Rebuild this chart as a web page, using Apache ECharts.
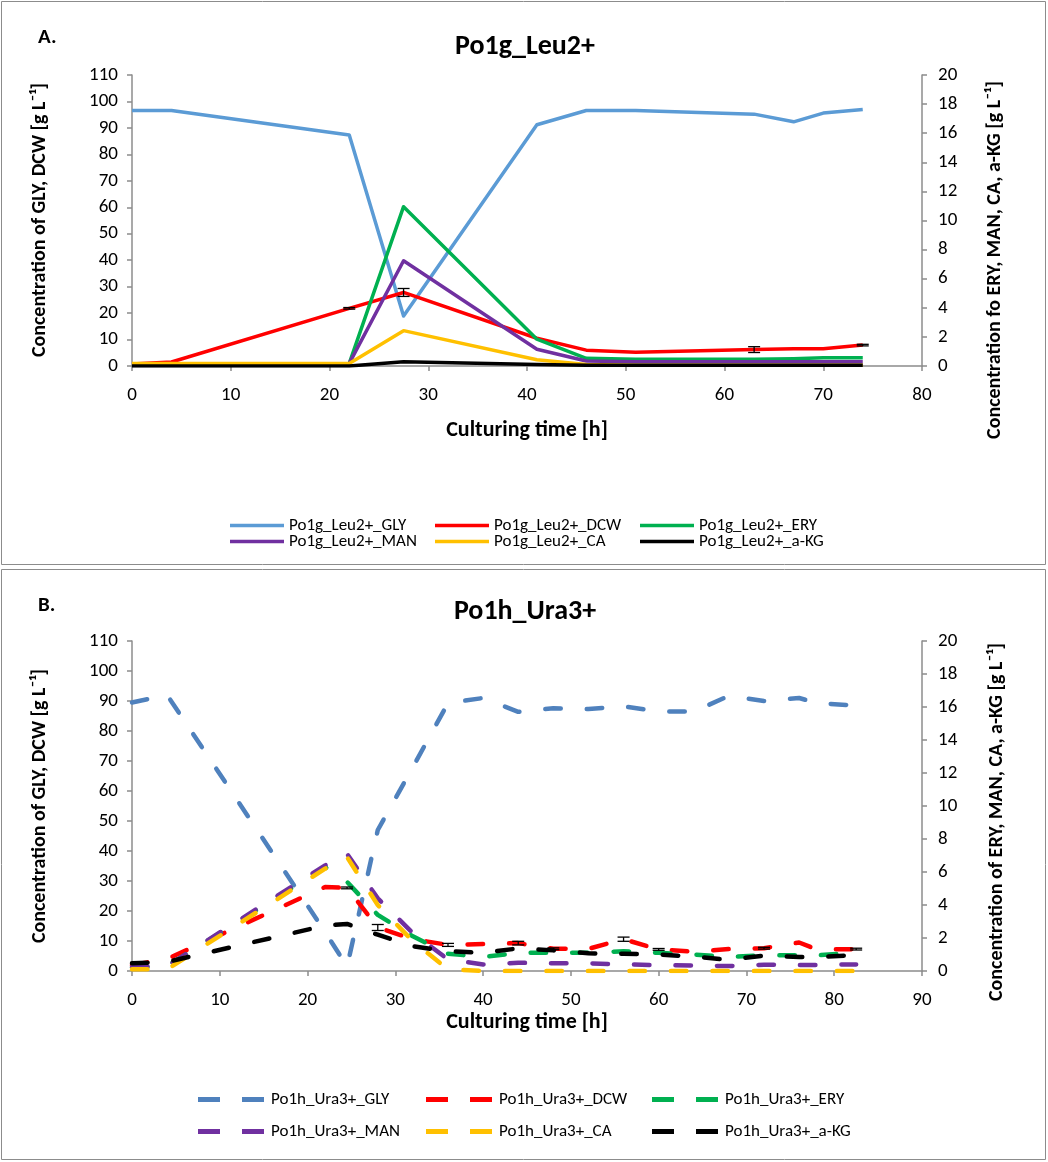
<!DOCTYPE html>
<html>
<head>
<meta charset="utf-8">
<title>Po1g_Leu2+ / Po1h_Ura3+ culturing profiles</title>
<script src="https://cdn.jsdelivr.net/npm/echarts@6/dist/echarts.min.js"></script>
<style>
  html, body { margin: 0; padding: 0; background: #fff; }
  #chart { width: 1048px; height: 1162px; }
</style>
</head>
<body>
<div id="chart"></div>
<script>
// ---- Panel A: Po1g_Leu2+ (solid lines) ----
const timeA = [0, 4, 22, 27.5, 41, 46, 51, 63, 67, 70, 74];
const glyA  = [96.6, 96.6, 87.3, 18.9, 91.2, 96.6, 96.6, 95.2, 92.3, 95.6, 97.0];
const dcwA  = [0.8, 1.5, 21.8, 27.8, 10.5, 6.0, 5.2, 6.2, 6.5, 6.5, 7.9];
const dcwSdA = [0, 0, 0.3, 1.5, 0, 0, 0, 1.1, 0, 0, 0.3];
const eryA  = [0.15, 0.15, 0.18, 10.95, 1.84, 0.53, 0.46, 0.46, 0.5, 0.57, 0.57];
const manA  = [0.15, 0.15, 0.18, 7.23, 1.15, 0.34, 0.3, 0.3, 0.3, 0.3, 0.3];
const caA   = [0.18, 0.18, 0.18, 2.43, 0.43, 0.1, 0.05, 0.05, 0.05, 0.05, 0.05];
const akgA  = [0, 0, 0, 0.3, 0.1, 0.05, 0.05, 0.05, 0.05, 0.05, 0.05];

// ---- Panel B: Po1h_Ura3+ (dashed lines) ----
const timeB = [0, 4, 22, 24.5, 28, 32, 36, 40, 44, 48, 52, 56, 60, 64, 68, 72, 76, 78, 82.5];
const glyB  = [89.5, 92, 13, 1.5, 47, 68, 89.3, 91, 86.4, 87.6, 87.3, 88.2, 86.5, 86.5, 91.7, 90, 91, 89.3, 88.5];
const dcwB  = [2.0, 4.0, 28.0, 27.7, 14.5, 10.6, 8.7, 9.0, 9.3, 7.4, 7.4, 10.6, 7.2, 6.4, 7.3, 7.6, 9.5, 7.2, 7.3];
const dcwSdB = [0, 0, 0, 0.3, 1.0, 0, 0.5, 0, 0.6, 0.3, 0, 0.7, 0.3, 0, 0, 0.3, 0, 0, 0.3];
const eryB  = [0.2, 0.3, 6.3, 5.4, 3.4, 2.1, 1.05, 0.85, 1.1, 1.1, 1.1, 1.2, 1.1, 1.0, 0.85, 0.95, 0.95, 0.95, 1.1];
const manB  = [0.25, 0.3, 6.4, 7.1, 4.4, 2.3, 0.7, 0.4, 0.5, 0.47, 0.47, 0.4, 0.36, 0.33, 0.3, 0.38, 0.37, 0.37, 0.4];
const caB   = [0.1, 0.1, 6.2, 6.9, 4.0, 1.8, 0.1, 0, 0, 0, 0, 0, 0, 0, 0, 0, 0, 0, 0];
const akgB  = [0.47, 0.55, 2.75, 2.85, 2.2, 1.5, 1.2, 1.1, 1.37, 1.25, 1.07, 1.05, 1.0, 0.87, 0.68, 0.93, 0.85, 0.84, 0.97];

// ---- Axis scales ----
const leftAxisMax = 110, leftAxisStep = 10;
const rightAxisMax = 20, rightAxisStep = 2;
const timeMaxA = 80, timeMaxB = 90, timeStep = 10;

const names = ['GLY', 'DCW', 'ERY', 'MAN', 'CA', 'a-KG'];
const colors = { GLY: '#5B9BD5', DCW: '#FF0000', ERY: '#00B050', MAN: '#7030A0', CA: '#FFC000', 'a-KG': '#000000' };
const glyColorB = '#4F81BD';

const FONT = 'Carlito, "Liberation Sans Narrow", "Open Sans", sans-serif';
const AXIS_GREY = '#8c8c8c';

function pairs(x, y) { return x.map((t, i) => [t, y[i]]); }

function lineSeries(name, x, y, color, xi, yi, dashed) {
  return {
    name, type: 'line', xAxisIndex: xi, yAxisIndex: yi,
    data: pairs(x, y), symbol: 'none', smooth: false,
    lineStyle: dashed
      ? { color, width: 4.5, type: [15.5, 26], cap: 'round', join: 'round' }
      : { color, width: 3.5, join: 'round' },
    itemStyle: { color },
    emphasis: { disabled: true }, animation: false
  };
}

function errorBars(x, y, sd, xi, yi, capHalf) {
  const data = [];
  x.forEach((t, i) => { if (sd[i] > 0) data.push([t, y[i] - sd[i], y[i] + sd[i]]); });
  return {
    type: 'custom', name: 'DCW sd', xAxisIndex: xi, yAxisIndex: yi, data, z: 5,
    silent: true, animation: false,
    encode: { x: 0, y: [1, 2] },
    renderItem(params, api) {
      const t = api.value(0);
      const lo = api.coord([t, api.value(1)]);
      const hi = api.coord([t, api.value(2)]);
      const st = { stroke: '#000', lineWidth: 1.3 };
      return {
        type: 'group', children: [
          { type: 'line', shape: { x1: lo[0], y1: lo[1], x2: hi[0], y2: hi[1] }, style: st },
          { type: 'line', shape: { x1: lo[0] - capHalf, y1: lo[1], x2: lo[0] + capHalf, y2: lo[1] }, style: st },
          { type: 'line', shape: { x1: hi[0] - capHalf, y1: hi[1], x2: hi[0] + capHalf, y2: hi[1] }, style: st }
        ]
      };
    }
  };
}

function valueAxisX(grid, max) {
  return {
    type: 'value', gridIndex: grid, min: 0, max, interval: timeStep,
    axisLine: { show: true, onZero: false, lineStyle: { color: AXIS_GREY, width: 1.5 } },
    axisTick: { show: true, length: 5, lineStyle: { color: AXIS_GREY, width: 1.5 } },
    axisLabel: { color: '#000', fontSize: 19, fontFamily: FONT, margin: 20 },
    splitLine: { show: false }
  };
}
function valueAxisY(grid, pos, max, step) {
  return {
    type: 'value', gridIndex: grid, position: pos, min: 0, max, interval: step,
    axisLine: { show: true, onZero: false, lineStyle: { color: AXIS_GREY, width: 1.5 } },
    axisTick: { show: true, length: 5, lineStyle: { color: AXIS_GREY, width: 1.5 } },
    axisLabel: { color: '#000', fontSize: 19, fontFamily: FONT, margin: pos === 'left' ? 14 : 16 },
    splitLine: { show: false }
  };
}

const series = [];
const setA = { GLY: glyA, DCW: dcwA, ERY: eryA, MAN: manA, CA: caA, 'a-KG': akgA };
const setB = { GLY: glyB, DCW: dcwB, ERY: eryB, MAN: manB, CA: caB, 'a-KG': akgB };
names.forEach(n => {
  const yi = (n === 'GLY' || n === 'DCW') ? 0 : 1;
  series.push(lineSeries('Po1g_Leu2+_' + n, timeA, setA[n], colors[n], 0, yi, false));
});
series.push(errorBars(timeA, dcwA, dcwSdA, 0, 0, 6));
names.forEach(n => {
  const yi = (n === 'GLY' || n === 'DCW') ? 2 : 3;
  const c = n === 'GLY' ? glyColorB : colors[n];
  series.push(lineSeries('Po1h_Ura3+_' + n, timeB, setB[n], c, 1, yi, true));
});
series.push(errorBars(timeB, dcwB, dcwSdB, 1, 2, 6));

// Legend blocks: one per entry, laid out on a 3x2 grid under each panel
const legendText = { color: '#000', fontSize: 17, fontFamily: FONT };
const solidKey = 'rect';
const dashKey = 'path://M0,0H22V5H0Z M44,0H66V5H44Z';
const legends = [];
const colX = [225, 430, 635];
names.forEach((n, i) => {
  legends.push({
    data: ['Po1g_Leu2+_' + n], left: colX[i % 3], top: i < 3 ? 512 : 528,
    icon: solidKey, itemWidth: 54, itemHeight: 3.5, textStyle: legendText,
    selectedMode: false
  });
});
const colXB = [193, 421, 647];
names.forEach((n, i) => {
  legends.push({
    data: ['Po1h_Ura3+_' + n], left: colXB[i % 3], top: i < 3 ? 1086 : 1118,
    icon: dashKey, itemWidth: 70, itemHeight: 5, textStyle: legendText,
    selectedMode: false
  });
});

function vText(x, y, text, size) {
  return { type: 'text', x, y, rotation: Math.PI / 2,
    style: { text, fill: '#000', font: 'bold ' + size + 'px ' + FONT, align: 'center', verticalAlign: 'middle' } };
}
function hText(x, y, text, size, align) {
  return { type: 'text', x, y,
    style: { text, fill: '#000', font: 'bold ' + size + 'px ' + FONT, align: align || 'center', verticalAlign: 'middle' } };
}

const graphic = [
  { type: 'rect', shape: { x: 1.5, y: 1.5, width: 1044, height: 563 }, style: { fill: 'none', stroke: '#8c8c8c', lineWidth: 1 }, silent: true },
  { type: 'rect', shape: { x: 1.5, y: 569.5, width: 1044, height: 590 }, style: { fill: 'none', stroke: '#8c8c8c', lineWidth: 1 }, silent: true },
  hText(38, 38, 'A.', 21, 'left'),
  hText(525, 47, 'Po1g_Leu2+', 28),
  vText(40, 220, 'Concentration of GLY, DCW [g L⁻¹]', 20),
  vText(995, 260, 'Concentration fo ERY, MAN, CA, a-KG [g L⁻¹]', 20),
  hText(527, 430, 'Culturing time [h]', 22),
  hText(38, 606, 'B.', 21, 'left'),
  hText(525, 612, 'Po1h_Ura3+', 28),
  vText(40, 806, 'Concentration of GLY, DCW [g L⁻¹]', 20),
  vText(997, 822, 'Concentration of ERY, MAN, CA, a-KG [g L⁻¹]', 20),
  hText(527, 1022, 'Culturing time [h]', 22)
];

const chart = echarts.init(document.getElementById('chart'), null, { renderer: 'canvas' });
chart.setOption({
  backgroundColor: '#fff',
  animation: false,
  grid: [
    { left: 132, right: 126, top: 75, height: 291 },
    { left: 132, right: 126, top: 641, height: 330 }
  ],
  xAxis: [valueAxisX(0, timeMaxA), valueAxisX(1, timeMaxB)],
  yAxis: [
    valueAxisY(0, 'left', leftAxisMax, leftAxisStep),
    valueAxisY(0, 'right', rightAxisMax, rightAxisStep),
    valueAxisY(1, 'left', leftAxisMax, leftAxisStep),
    valueAxisY(1, 'right', rightAxisMax, rightAxisStep)
  ],
  legend: legends,
  series,
  graphic
});
</script>
</body>
</html>
